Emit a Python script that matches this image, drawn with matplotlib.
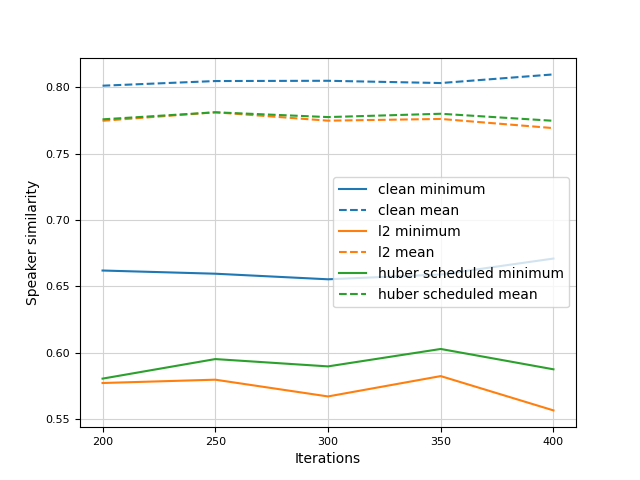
import matplotlib
matplotlib.use("Agg")
import matplotlib.pyplot as plt

iterations = [200, 250, 300, 350, 400]
clean_min = [0.662, 0.6596, 0.6554, 0.659, 0.671]
clean_mean = [0.801, 0.8045, 0.8047, 0.803, 0.8095]
l2_min = [0.5774, 0.5799, 0.5673, 0.5826, 0.5568]
l2_mean = [0.7746, 0.781, 0.7747, 0.776, 0.7691]
huber_min = [0.5807, 0.5954, 0.5899, 0.6030, 0.5877]
huber_mean = [0.7757, 0.781, 0.7774, 0.7799, 0.7746]

fig, ax = plt.subplots(figsize=(6.4, 4.8), dpi=100)
ax.plot(iterations, clean_min, color="C0", label="clean minimum")
ax.plot(iterations, clean_mean, color="C0", linestyle="--", label="clean mean")
ax.plot(iterations, l2_min, color="C1", label="l2 minimum")
ax.plot(iterations, l2_mean, color="C1", linestyle="--", label="l2 mean")
ax.plot(iterations, huber_min, color="C2", label="huber scheduled minimum")
ax.plot(iterations, huber_mean, color="C2", linestyle="--", label="huber scheduled mean")
ax.set_xlabel("Iterations")
ax.set_ylabel("Speaker similarity")
ax.set_xticks(iterations)
ax.tick_params(labelsize=8)
ax.grid(True, color="#d3d3d3")
ax.set_axisbelow(True)
ax.legend(loc="center right")
fig.savefig("out.png")
